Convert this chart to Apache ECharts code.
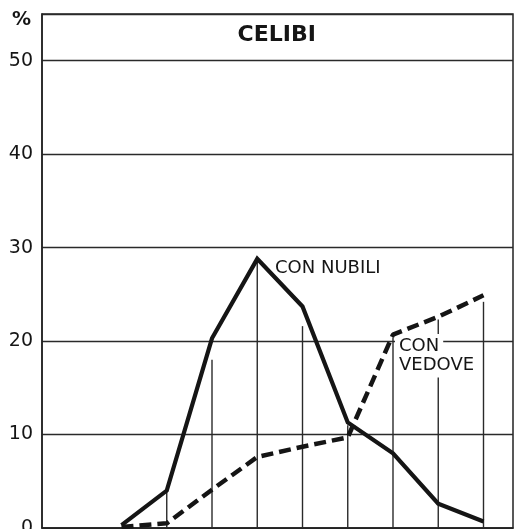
<!DOCTYPE html>
<html>
<head>
<meta charset="utf-8">
<script src="https://cdn.jsdelivr.net/npm/echarts@6/dist/echarts.min.js"></script>
<style>
html,body{margin:0;padding:0;background:#fff;}
#c{width:514px;height:529px;}
</style>
</head>
<body>
<div id="c"></div>
<script>
// Data
const ageSteps = [0, 1, 2, 3, 4, 5, 6, 7, 8];
const conNubili = [0.3, 4.0, 20.3, 28.8, 23.7, 11.3, 8.0, 2.6, 0.7];
const conVedove = [0.1, 0.5, 4.1, 7.6, 8.7, 9.7, 20.7, 22.6, 24.9];
const dropLines = [0, 4.0, 18.0, 28.8, 21.6, 11.0, 20.4, 22.3, 24.2];
const yTicks = [0, 10, 20, 30, 40, 50];
const titleText = 'CELIBI';
const unitText = '%';
const labelNubili = 'CON NUBILI';
const labelVedove = ['CON', 'VEDOVE'];

const ink = '#151515';
const font = '"DejaVu Sans", sans-serif';

const chart = echarts.init(document.getElementById('c'), null, {renderer: 'canvas'});
chart.setOption({
  backgroundColor: '#ffffff',
  animation: false,
  grid: {
    left: 42, right: 1, top: 14, height: 514,
    outerBoundsMode: 'none', containLabel: false,
    show: true, borderColor: '#222', borderWidth: 1.5, backgroundColor: 'transparent'
  },
  xAxis: {
    type: 'value', min: -1.757, max: 8.652,
    axisLine: {show: true, onZero: false, lineStyle: {color: '#222', width: 1.5}},
    axisTick: {show: false}, axisLabel: {show: false}, splitLine: {show: false}
  },
  yAxis: {
    type: 'value', min: 0, max: 55, interval: 10,
    axisLine: {show: true, onZero: false, lineStyle: {color: '#222', width: 1.5}},
    axisTick: {show: false},
    axisLabel: {
      color: ink, fontSize: 19, fontFamily: font, margin: 9,
      formatter: v => (yTicks.indexOf(v) >= 0 ? String(v) : '')
    },
    splitLine: {show: true, lineStyle: {color: '#2a2a2a', width: 1.4}}
  },
  series: [
    {
      type: 'bar', z: 1, barWidth: 1.4, silent: true,
      itemStyle: {color: '#2a2a2a'},
      data: ageSteps.map((x, i) => [x, dropLines[i]])
    },
    {
      name: labelNubili, type: 'line', z: 4, symbol: 'none',
      lineStyle: {color: ink, width: 4.2, join: 'miter'},
      data: ageSteps.map((x, i) => [x, conNubili[i]])
    },
    {
      name: 'CON VEDOVE', type: 'line', z: 4, symbol: 'none',
      lineStyle: {color: ink, width: 4.5, type: [12, 6]},
      data: ageSteps.map((x, i) => [x, conVedove[i]])
    }
  ],
  graphic: [
    {type: 'text', x: 276.7, y: 35.5, z: 5,
     style: {text: titleText, fill: ink, font: 'bold 22px ' + font, textAlign: 'center', textVerticalAlign: 'middle'}},
    {type: 'text', x: 21.5, y: 20, z: 5,
     style: {text: unitText, fill: ink, font: 'bold 19px ' + font, textAlign: 'center', textVerticalAlign: 'middle'}},
    {type: 'text', x: 272, y: 268.5, z: 1.5,
     style: {text: labelNubili, fill: ink, font: '18px ' + font, textAlign: 'left', textVerticalAlign: 'middle',
             backgroundColor: '#fff', padding: [2, 3]}},
    {type: 'text', x: 395, y: 346, z: 1.5,
     style: {text: labelVedove[0], fill: ink, font: '18px ' + font, textAlign: 'left', textVerticalAlign: 'middle',
             backgroundColor: '#fff', padding: [3, 4]}},
    {type: 'text', x: 395, y: 365.5, z: 1.5,
     style: {text: labelVedove[1], fill: ink, font: '18px ' + font, textAlign: 'left', textVerticalAlign: 'middle',
             backgroundColor: '#fff', padding: [3, 4]}}
  ]
});
</script>
</body>
</html>
